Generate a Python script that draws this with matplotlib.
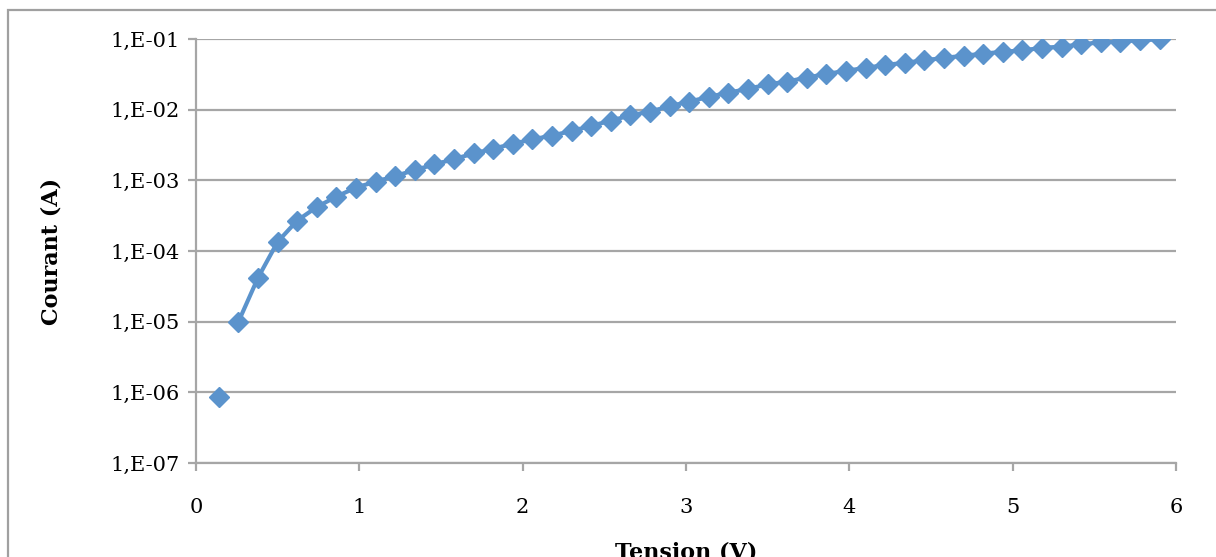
import numpy as np
import matplotlib
matplotlib.use('Agg')
import matplotlib.pyplot as plt
from matplotlib.patches import Rectangle

# tension (V) et courant (A)
tension = [0.14, 0.26, 0.38, 0.50, 0.62, 0.74, 0.86, 0.98, 1.10, 1.22,
           1.34, 1.46, 1.58, 1.70, 1.82, 1.94, 2.06, 2.18, 2.30, 2.42,
           2.54, 2.66, 2.78, 2.90, 3.02, 3.14, 3.26, 3.38, 3.50, 3.62,
           3.74, 3.86, 3.98, 4.10, 4.22, 4.34, 4.46, 4.58, 4.70, 4.82,
           4.94, 5.06, 5.18, 5.30, 5.42, 5.54, 5.66, 5.78, 5.90]
courant = [8.5e-7, 1.0e-5, 4.2e-5, 1.35e-4, 2.7e-4, 4.2e-4, 5.9e-4, 7.9e-4, 9.6e-4, 1.15e-3,
           1.40e-3, 1.68e-3, 2.0e-3, 2.4e-3, 2.8e-3, 3.3e-3, 3.8e-3, 4.3e-3, 5.0e-3, 5.9e-3,
           7.0e-3, 8.3e-3, 9.4e-3, 1.12e-2, 1.30e-2, 1.52e-2, 1.74e-2, 1.97e-2, 2.28e-2, 2.5e-2,
           2.85e-2, 3.2e-2, 3.55e-2, 3.9e-2, 4.3e-2, 4.6e-2, 5.0e-2, 5.4e-2, 5.8e-2, 6.2e-2,
           6.6e-2, 6.9e-2, 7.5e-2, 7.8e-2, 8.4e-2, 9.0e-2, 9.2e-2, 9.6e-2, 9.9e-2]

yticks = [1e-7, 1e-6, 1e-5, 1e-4, 1e-3, 1e-2, 1e-1]
ylabels = ['1,E-07', '1,E-06', '1,E-05', '1,E-04', '1,E-03', '1,E-02', '1,E-01']
xticks = [0, 1, 2, 3, 4, 5, 6]

bleu = '#5B93CC'
gris = '#A6A6A6'

plt.rcParams['font.family'] = ['DejaVu Serif']
fig = plt.figure(figsize=(12.16, 5.57), dpi=100)
ax = fig.add_axes([196/1216, 1-463/557, (1176-196)/1216, (463-39)/557])

# cadre exterieur du graphique
fig.patches.append(Rectangle((8/1216, -0.1), 1.2, 1-10/557+0.1, transform=fig.transFigure,
                             fill=False, edgecolor='#A0A0A0', lw=1.6))

# premier point isole, puis la courbe reliee
ax.plot(tension[1:], courant[1:], '-', color=bleu, lw=3, zorder=3)
ax.plot(tension, courant, 'D', color=bleu, ms=10, mec=bleu, lw=0, zorder=4)

ax.set_yscale('log')
ax.set_ylim(1e-7, 1e-1)
ax.set_xlim(0, 6)
ax.set_yticks(yticks)
ax.set_yticklabels(ylabels)
ax.minorticks_off()
ax.set_xticks(xticks)
ax.yaxis.grid(True, color=gris, lw=1.6)
ax.set_axisbelow(True)

for s in ['top', 'right']:
    ax.spines[s].set_visible(False)
for s in ['left', 'bottom']:
    ax.spines[s].set_color(gris)
    ax.spines[s].set_linewidth(1.6)
ax.tick_params(axis='y', colors=gris, length=6, width=1.6, pad=6, labelsize=15, labelcolor='black')
ax.tick_params(axis='x', colors=gris, length=6, width=1.6, pad=19, labelsize=15, labelcolor='black')

ax.set_ylabel('Courant (A)', fontsize=16, fontweight='bold', labelpad=34)
ax.set_xlabel('Tension (V)', fontsize=16, fontweight='bold', labelpad=18)

fig.savefig('out.png', dpi=100)
